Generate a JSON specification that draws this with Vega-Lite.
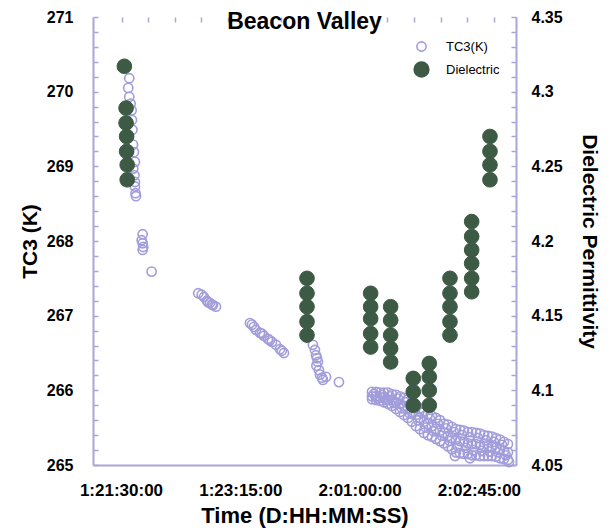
{
  "$schema": "https://vega.github.io/schema/vega-lite/v6.json",
  "width": 423,
  "height": 448,
  "autosize": {"type": "none"},
  "padding": {"left": 93, "top": 17, "right": 94, "bottom": 67},
  "background": "white",
  "title": {"text": "Beacon Valley", "font": "Liberation Sans", "fontSize": 23, "fontWeight": "bold", "color": "black", "anchor": "middle", "frame": "group", "offset": -12, "dy": 31, "baseline": "alphabetic"},
  "config": {
    "view": {"stroke": null},
    "axis": {"domainColor": "#aaa6d8", "domainWidth": 2, "tickColor": "#aaa6d8", "tickWidth": 1.5, "labelFont": "Liberation Sans", "labelFontWeight": "bold", "labelColor": "black", "titleFont": "Liberation Sans", "titleFontWeight": "bold", "titleColor": "black", "grid": false, "labelOverlap": false, "labelFlush": false, "labelBound": false}
  },
  "datasets": {
    "tc3": [
      {"t": 7.3, "v": 270.18, "series": "TC3(K)"},
      {"t": 6.4, "v": 270.05, "series": "TC3(K)"},
      {"t": 7.3, "v": 269.93, "series": "TC3(K)"},
      {"t": 8.5, "v": 269.84, "series": "TC3(K)"},
      {"t": 9.4, "v": 269.75, "series": "TC3(K)"},
      {"t": 9.7, "v": 269.62, "series": "TC3(K)"},
      {"t": 10.1, "v": 269.49, "series": "TC3(K)"},
      {"t": 10.6, "v": 269.29, "series": "TC3(K)"},
      {"t": 11.4, "v": 269.19, "series": "TC3(K)"},
      {"t": 12.3, "v": 269.06, "series": "TC3(K)"},
      {"t": 10.8, "v": 268.97, "series": "TC3(K)"},
      {"t": 11.9, "v": 268.88, "series": "TC3(K)"},
      {"t": 12.3, "v": 268.79, "series": "TC3(K)"},
      {"t": 12.3, "v": 268.73, "series": "TC3(K)"},
      {"t": 12.8, "v": 268.64, "series": "TC3(K)"},
      {"t": 13.2, "v": 268.6, "series": "TC3(K)"},
      {"t": 19.1, "v": 268.09, "series": "TC3(K)"},
      {"t": 18.2, "v": 268.01, "series": "TC3(K)"},
      {"t": 19.1, "v": 267.97, "series": "TC3(K)"},
      {"t": 19.6, "v": 267.92, "series": "TC3(K)"},
      {"t": 19.1, "v": 267.88, "series": "TC3(K)"},
      {"t": 27.0, "v": 267.59, "series": "TC3(K)"},
      {"t": 68.0, "v": 267.3, "series": "TC3(K)"},
      {"t": 71.0, "v": 267.28, "series": "TC3(K)"},
      {"t": 73.0, "v": 267.25, "series": "TC3(K)"},
      {"t": 75.7, "v": 267.2, "series": "TC3(K)"},
      {"t": 76.5, "v": 267.18, "series": "TC3(K)"},
      {"t": 78.3, "v": 267.17, "series": "TC3(K)"},
      {"t": 80.0, "v": 267.15, "series": "TC3(K)"},
      {"t": 81.0, "v": 267.14, "series": "TC3(K)"},
      {"t": 83.6, "v": 267.12, "series": "TC3(K)"},
      {"t": 113.5, "v": 266.9, "series": "TC3(K)"},
      {"t": 115.3, "v": 266.88, "series": "TC3(K)"},
      {"t": 117.0, "v": 266.85, "series": "TC3(K)"},
      {"t": 118.8, "v": 266.81, "series": "TC3(K)"},
      {"t": 122.3, "v": 266.77, "series": "TC3(K)"},
      {"t": 124.0, "v": 266.76, "series": "TC3(K)"},
      {"t": 125.8, "v": 266.73, "series": "TC3(K)"},
      {"t": 129.3, "v": 266.69, "series": "TC3(K)"},
      {"t": 131.0, "v": 266.67, "series": "TC3(K)"},
      {"t": 132.9, "v": 266.65, "series": "TC3(K)"},
      {"t": 136.4, "v": 266.61, "series": "TC3(K)"},
      {"t": 139.9, "v": 266.55, "series": "TC3(K)"},
      {"t": 141.5, "v": 266.53, "series": "TC3(K)"},
      {"t": 143.4, "v": 266.5, "series": "TC3(K)"},
      {"t": 168.9, "v": 266.61, "series": "TC3(K)"},
      {"t": 170.7, "v": 266.54, "series": "TC3(K)"},
      {"t": 171.6, "v": 266.47, "series": "TC3(K)"},
      {"t": 172.5, "v": 266.43, "series": "TC3(K)"},
      {"t": 173.3, "v": 266.38, "series": "TC3(K)"},
      {"t": 172.0, "v": 266.33, "series": "TC3(K)"},
      {"t": 174.2, "v": 266.27, "series": "TC3(K)"},
      {"t": 175.1, "v": 266.21, "series": "TC3(K)"},
      {"t": 176.9, "v": 266.17, "series": "TC3(K)"},
      {"t": 177.7, "v": 266.14, "series": "TC3(K)"},
      {"t": 180.4, "v": 266.18, "series": "TC3(K)"},
      {"t": 191.8, "v": 266.11, "series": "TC3(K)"},
      {"t": 220.9, "v": 265.98, "series": "TC3(K)"}, {"t": 220.9, "v": 265.92, "series": "TC3(K)"}, {"t": 220.9, "v": 265.88, "series": "TC3(K)"}, {"t": 222.6, "v": 265.95, "series": "TC3(K)"},
      {"t": 224.4, "v": 265.98, "series": "TC3(K)"}, {"t": 224.4, "v": 265.92, "series": "TC3(K)"}, {"t": 224.4, "v": 265.87, "series": "TC3(K)"}, {"t": 226.1, "v": 265.89, "series": "TC3(K)"},
      {"t": 227.9, "v": 265.97, "series": "TC3(K)"}, {"t": 227.9, "v": 265.91, "series": "TC3(K)"}, {"t": 227.9, "v": 265.86, "series": "TC3(K)"}, {"t": 229.6, "v": 265.94, "series": "TC3(K)"},
      {"t": 231.4, "v": 265.97, "series": "TC3(K)"}, {"t": 231.4, "v": 265.9, "series": "TC3(K)"}, {"t": 231.4, "v": 265.84, "series": "TC3(K)"}, {"t": 233.1, "v": 265.87, "series": "TC3(K)"},
      {"t": 234.9, "v": 265.97, "series": "TC3(K)"}, {"t": 234.9, "v": 265.88, "series": "TC3(K)"}, {"t": 234.9, "v": 265.82, "series": "TC3(K)"}, {"t": 236.6, "v": 265.92, "series": "TC3(K)"},
      {"t": 238.4, "v": 265.95, "series": "TC3(K)"}, {"t": 238.4, "v": 265.87, "series": "TC3(K)"}, {"t": 238.4, "v": 265.79, "series": "TC3(K)"}, {"t": 240.1, "v": 265.83, "series": "TC3(K)"},
      {"t": 242.0, "v": 265.94, "series": "TC3(K)"}, {"t": 242.0, "v": 265.84, "series": "TC3(K)"}, {"t": 242.0, "v": 265.75, "series": "TC3(K)"}, {"t": 243.7, "v": 265.89, "series": "TC3(K)"},
      {"t": 245.5, "v": 265.92, "series": "TC3(K)"}, {"t": 245.5, "v": 265.82, "series": "TC3(K)"}, {"t": 245.5, "v": 265.71, "series": "TC3(K)"}, {"t": 247.2, "v": 265.76, "series": "TC3(K)"},
      {"t": 249.0, "v": 265.9, "series": "TC3(K)"}, {"t": 249.0, "v": 265.79, "series": "TC3(K)"}, {"t": 249.0, "v": 265.67, "series": "TC3(K)"}, {"t": 250.7, "v": 265.84, "series": "TC3(K)"},
      {"t": 252.5, "v": 265.88, "series": "TC3(K)"}, {"t": 252.5, "v": 265.76, "series": "TC3(K)"}, {"t": 252.5, "v": 265.63, "series": "TC3(K)"}, {"t": 254.2, "v": 265.69, "series": "TC3(K)"},
      {"t": 256.0, "v": 265.84, "series": "TC3(K)"}, {"t": 256.0, "v": 265.71, "series": "TC3(K)"}, {"t": 256.0, "v": 265.58, "series": "TC3(K)"}, {"t": 257.7, "v": 265.77, "series": "TC3(K)"},
      {"t": 259.6, "v": 265.8, "series": "TC3(K)"}, {"t": 259.6, "v": 265.67, "series": "TC3(K)"}, {"t": 259.6, "v": 265.52, "series": "TC3(K)"}, {"t": 261.3, "v": 265.6, "series": "TC3(K)"},
      {"t": 263.1, "v": 265.76, "series": "TC3(K)"}, {"t": 263.1, "v": 265.63, "series": "TC3(K)"}, {"t": 263.1, "v": 265.48, "series": "TC3(K)"}, {"t": 264.8, "v": 265.7, "series": "TC3(K)"},
      {"t": 266.6, "v": 265.72, "series": "TC3(K)"}, {"t": 266.6, "v": 265.58, "series": "TC3(K)"}, {"t": 266.6, "v": 265.43, "series": "TC3(K)"}, {"t": 268.3, "v": 265.5, "series": "TC3(K)"},
      {"t": 270.1, "v": 265.68, "series": "TC3(K)"}, {"t": 270.1, "v": 265.55, "series": "TC3(K)"}, {"t": 270.1, "v": 265.4, "series": "TC3(K)"}, {"t": 271.8, "v": 265.62, "series": "TC3(K)"},
      {"t": 273.6, "v": 265.66, "series": "TC3(K)"}, {"t": 273.6, "v": 265.52, "series": "TC3(K)"}, {"t": 273.6, "v": 265.38, "series": "TC3(K)"}, {"t": 275.3, "v": 265.45, "series": "TC3(K)"},
      {"t": 277.2, "v": 265.63, "series": "TC3(K)"}, {"t": 277.2, "v": 265.48, "series": "TC3(K)"}, {"t": 277.2, "v": 265.35, "series": "TC3(K)"}, {"t": 278.9, "v": 265.55, "series": "TC3(K)"},
      {"t": 280.7, "v": 265.6, "series": "TC3(K)"}, {"t": 280.7, "v": 265.46, "series": "TC3(K)"}, {"t": 280.7, "v": 265.32, "series": "TC3(K)"}, {"t": 282.4, "v": 265.39, "series": "TC3(K)"},
      {"t": 284.2, "v": 265.55, "series": "TC3(K)"}, {"t": 284.2, "v": 265.43, "series": "TC3(K)"}, {"t": 284.2, "v": 265.29, "series": "TC3(K)"}, {"t": 285.9, "v": 265.49, "series": "TC3(K)"},
      {"t": 287.7, "v": 265.54, "series": "TC3(K)"}, {"t": 287.7, "v": 265.39, "series": "TC3(K)"}, {"t": 287.7, "v": 265.25, "series": "TC3(K)"}, {"t": 289.4, "v": 265.32, "series": "TC3(K)"},
      {"t": 291.2, "v": 265.51, "series": "TC3(K)"}, {"t": 291.2, "v": 265.36, "series": "TC3(K)"}, {"t": 291.2, "v": 265.21, "series": "TC3(K)"}, {"t": 292.9, "v": 265.44, "series": "TC3(K)"},
      {"t": 294.8, "v": 265.48, "series": "TC3(K)"}, {"t": 294.8, "v": 265.34, "series": "TC3(K)"}, {"t": 294.8, "v": 265.17, "series": "TC3(K)"}, {"t": 296.5, "v": 265.25, "series": "TC3(K)"},
      {"t": 298.3, "v": 265.47, "series": "TC3(K)"}, {"t": 298.3, "v": 265.32, "series": "TC3(K)"}, {"t": 298.3, "v": 265.16, "series": "TC3(K)"}, {"t": 300.0, "v": 265.4, "series": "TC3(K)"},
      {"t": 301.8, "v": 265.46, "series": "TC3(K)"}, {"t": 301.8, "v": 265.31, "series": "TC3(K)"}, {"t": 301.8, "v": 265.15, "series": "TC3(K)"}, {"t": 303.5, "v": 265.23, "series": "TC3(K)"},
      {"t": 305.3, "v": 265.44, "series": "TC3(K)"}, {"t": 305.3, "v": 265.29, "series": "TC3(K)"}, {"t": 305.3, "v": 265.15, "series": "TC3(K)"}, {"t": 307.0, "v": 265.37, "series": "TC3(K)"},
      {"t": 308.8, "v": 265.44, "series": "TC3(K)"}, {"t": 308.8, "v": 265.28, "series": "TC3(K)"}, {"t": 308.8, "v": 265.13, "series": "TC3(K)"}, {"t": 310.5, "v": 265.2, "series": "TC3(K)"},
      {"t": 312.4, "v": 265.43, "series": "TC3(K)"}, {"t": 312.4, "v": 265.28, "series": "TC3(K)"}, {"t": 312.4, "v": 265.13, "series": "TC3(K)"}, {"t": 314.1, "v": 265.36, "series": "TC3(K)"},
      {"t": 315.9, "v": 265.42, "series": "TC3(K)"}, {"t": 315.9, "v": 265.27, "series": "TC3(K)"}, {"t": 315.9, "v": 265.12, "series": "TC3(K)"}, {"t": 317.6, "v": 265.19, "series": "TC3(K)"},
      {"t": 319.4, "v": 265.4, "series": "TC3(K)"}, {"t": 319.4, "v": 265.25, "series": "TC3(K)"}, {"t": 319.4, "v": 265.12, "series": "TC3(K)"}, {"t": 321.1, "v": 265.33, "series": "TC3(K)"},
      {"t": 322.9, "v": 265.39, "series": "TC3(K)"}, {"t": 322.9, "v": 265.25, "series": "TC3(K)"}, {"t": 322.9, "v": 265.12, "series": "TC3(K)"}, {"t": 324.6, "v": 265.18, "series": "TC3(K)"},
      {"t": 326.4, "v": 265.38, "series": "TC3(K)"}, {"t": 326.4, "v": 265.24, "series": "TC3(K)"}, {"t": 326.4, "v": 265.12, "series": "TC3(K)"}, {"t": 328.1, "v": 265.31, "series": "TC3(K)"},
      {"t": 330.0, "v": 265.36, "series": "TC3(K)"}, {"t": 330.0, "v": 265.23, "series": "TC3(K)"}, {"t": 330.0, "v": 265.11, "series": "TC3(K)"}, {"t": 331.7, "v": 265.17, "series": "TC3(K)"},
      {"t": 333.5, "v": 265.34, "series": "TC3(K)"}, {"t": 333.5, "v": 265.2, "series": "TC3(K)"}, {"t": 333.5, "v": 265.09, "series": "TC3(K)"}, {"t": 335.2, "v": 265.27, "series": "TC3(K)"},
      {"t": 337.0, "v": 265.31, "series": "TC3(K)"}, {"t": 337.0, "v": 265.19, "series": "TC3(K)"}, {"t": 337.0, "v": 265.08, "series": "TC3(K)"}, {"t": 338.7, "v": 265.13, "series": "TC3(K)"},
      {"t": 340.5, "v": 265.28, "series": "TC3(K)"}, {"t": 340.5, "v": 265.17, "series": "TC3(K)"}, {"t": 340.5, "v": 265.07, "series": "TC3(K)"},
      {"t": 293.9, "v": 265.12, "series": "TC3(K)"},
      {"t": 307.1, "v": 265.09, "series": "TC3(K)"},
      {"t": 341.4, "v": 265.04, "series": "TC3(K)"}
    ],
    "diel": [
      {"t": 3.0, "d": 4.317, "series": "Dielectric"},
      {"t": 4.5, "d": 4.289, "series": "Dielectric"},
      {"t": 4.5, "d": 4.279, "series": "Dielectric"},
      {"t": 5.0, "d": 4.27, "series": "Dielectric"},
      {"t": 5.0, "d": 4.26, "series": "Dielectric"},
      {"t": 5.5, "d": 4.251, "series": "Dielectric"},
      {"t": 5.5, "d": 4.241, "series": "Dielectric"},
      {"t": 163.7, "d": 4.175, "series": "Dielectric"},
      {"t": 163.7, "d": 4.165, "series": "Dielectric"},
      {"t": 163.7, "d": 4.156, "series": "Dielectric"},
      {"t": 163.7, "d": 4.146, "series": "Dielectric"},
      {"t": 163.7, "d": 4.137, "series": "Dielectric"},
      {"t": 219.7, "d": 4.165, "series": "Dielectric"},
      {"t": 219.7, "d": 4.156, "series": "Dielectric"},
      {"t": 219.7, "d": 4.148, "series": "Dielectric"},
      {"t": 219.7, "d": 4.138, "series": "Dielectric"},
      {"t": 219.7, "d": 4.129, "series": "Dielectric"},
      {"t": 237.3, "d": 4.156, "series": "Dielectric"},
      {"t": 237.3, "d": 4.147, "series": "Dielectric"},
      {"t": 237.3, "d": 4.137, "series": "Dielectric"},
      {"t": 237.3, "d": 4.128, "series": "Dielectric"},
      {"t": 237.3, "d": 4.119, "series": "Dielectric"},
      {"t": 257.2, "d": 4.108, "series": "Dielectric"},
      {"t": 257.2, "d": 4.099, "series": "Dielectric"},
      {"t": 257.2, "d": 4.09, "series": "Dielectric"},
      {"t": 271.3, "d": 4.118, "series": "Dielectric"},
      {"t": 271.3, "d": 4.109, "series": "Dielectric"},
      {"t": 271.3, "d": 4.1, "series": "Dielectric"},
      {"t": 271.3, "d": 4.09, "series": "Dielectric"},
      {"t": 289.5, "d": 4.175, "series": "Dielectric"},
      {"t": 289.5, "d": 4.165, "series": "Dielectric"},
      {"t": 289.5, "d": 4.156, "series": "Dielectric"},
      {"t": 289.5, "d": 4.146, "series": "Dielectric"},
      {"t": 289.5, "d": 4.137, "series": "Dielectric"},
      {"t": 308.6, "d": 4.213, "series": "Dielectric"},
      {"t": 308.6, "d": 4.203, "series": "Dielectric"},
      {"t": 308.6, "d": 4.194, "series": "Dielectric"},
      {"t": 308.6, "d": 4.185, "series": "Dielectric"},
      {"t": 308.6, "d": 4.175, "series": "Dielectric"},
      {"t": 308.6, "d": 4.166, "series": "Dielectric"},
      {"t": 324.7, "d": 4.27, "series": "Dielectric"},
      {"t": 324.7, "d": 4.26, "series": "Dielectric"},
      {"t": 324.7, "d": 4.251, "series": "Dielectric"},
      {"t": 324.7, "d": 4.241, "series": "Dielectric"}
    ]
  },
  "layer": [
    {
      "data": {"name": "tc3"},
      "mark": {"type": "point", "shape": "circle", "strokeWidth": 1.6, "opacity": 1},
      "encoding": {
        "x": {"field": "t", "type": "quantitative",
          "scale": {"domain": [-24.6, 347.6], "nice": false, "zero": false},
          "axis": {"values": [0, 105, 210, 315], "ticks": false, "labelFontSize": 17, "labelPadding": 17,
            "labelExpr": "datum.value == 0 ? '1:21:30:00' : datum.value == 105 ? '1:23:15:00' : datum.value == 210 ? '2:01:00:00' : '2:02:45:00'",
            "title": "Time (D:HH:MM:SS)", "titleFontSize": 22, "titlePadding": 7}},
        "y": {"field": "v", "type": "quantitative",
          "scale": {"domain": [265, 271], "nice": false, "zero": false},
          "axis": {"orient": "left", "values": [265, 265.2, 265.4, 265.6, 265.8, 266, 266.2, 266.4, 266.6, 266.8, 267, 267.2, 267.4, 267.6, 267.8, 268, 268.2, 268.4, 268.6, 268.8, 269, 269.2, 269.4, 269.6, 269.8, 270, 270.2, 270.4, 270.6, 270.8, 271],
            "tickSize": -5, "labelFontSize": 16, "labelPadding": 25,
            "labelExpr": "abs(datum.value - round(datum.value)) < 0.01 ? format(datum.value, 'd') : ''",
            "title": "TC3 (K)", "titleFontSize": 21, "titlePadding": 6}},
        "fill": {"field": "series", "type": "nominal",
          "scale": {"domain": ["TC3(K)", "Dielectric"], "range": ["transparent", "#3c5a44"]},
          "legend": {"orient": "none", "legendX": 320, "legendY": 23, "title": null, "labelFont": "Liberation Sans", "labelFontSize": 13, "rowPadding": 3, "symbolStrokeWidth": 1.6, "labelOffset": 16,
            "encode": {"labels": {"update": {"fill": {"signal": "datum.value === 'TC3(K)' ? '#a6a1d9' : '#4a4a4a'"}}}}}},
        "stroke": {"field": "series", "type": "nominal",
          "scale": {"domain": ["TC3(K)", "Dielectric"], "range": ["#a29dda", "#3c5a44"]},
          "legend": {"orient": "none", "legendX": 320, "legendY": 23, "title": null, "labelFont": "Liberation Sans", "labelFontSize": 13, "rowPadding": 3, "symbolStrokeWidth": 1.6, "labelOffset": 16,
            "encode": {"labels": {"update": {"fill": {"signal": "datum.value === 'TC3(K)' ? '#a6a1d9' : '#4a4a4a'"}}}}}},
        "size": {"field": "series", "type": "nominal",
          "scale": {"domain": ["TC3(K)", "Dielectric"], "range": [85, 215]},
          "legend": {"orient": "none", "legendX": 320, "legendY": 23, "title": null, "labelFont": "Liberation Sans", "labelFontSize": 13, "rowPadding": 3, "symbolStrokeWidth": 1.6, "labelOffset": 16,
            "encode": {"labels": {"update": {"fill": {"signal": "datum.value === 'TC3(K)' ? '#a6a1d9' : '#4a4a4a'"}}}}}}
      }
    },
    {
      "data": {"name": "diel"},
      "mark": {"type": "point", "shape": "circle", "strokeWidth": 1, "opacity": 1},
      "encoding": {
        "x": {"field": "t", "type": "quantitative",
          "scale": {"domain": [-24.6, 347.6], "nice": false, "zero": false},
          "axis": {"values": [0.5, 23.9, 47.3, 70.7, 94.1, 117.5, 140.9, 164.3, 187.7, 211.1, 234.5, 257.9, 281.3, 304.7, 328.1], "labels": false, "domain": false, "tickSize": -5, "title": null}},
        "y": {"field": "d", "type": "quantitative",
          "scale": {"domain": [4.05, 4.35], "nice": false, "zero": false},
          "axis": {"orient": "right", "values": [4.05, 4.06, 4.07, 4.08, 4.09, 4.1, 4.11, 4.12, 4.13, 4.14, 4.15, 4.16, 4.17, 4.18, 4.19, 4.2, 4.21, 4.22, 4.23, 4.24, 4.25, 4.26, 4.27, 4.28, 4.29, 4.3, 4.31, 4.32, 4.33, 4.34, 4.35],
            "tickSize": -5, "labelFontSize": 16, "labelPadding": 20,
            "labelExpr": "abs(datum.value * 20 - round(datum.value * 20)) < 0.01 ? format(datum.value, '~g') : ''",
            "title": "Dielectric Permittivity", "titleFontSize": 21, "titlePadding": 16}},
        "fill": {"field": "series", "type": "nominal", "scale": {"domain": ["TC3(K)", "Dielectric"], "range": ["transparent", "#3c5a44"]}},
        "stroke": {"field": "series", "type": "nominal", "scale": {"domain": ["TC3(K)", "Dielectric"], "range": ["#a29dda", "#3c5a44"]}},
        "size": {"field": "series", "type": "nominal", "scale": {"domain": ["TC3(K)", "Dielectric"], "range": [85, 215]}}
      }
    }
  ],
  "resolve": {"scale": {"y": "independent"}, "axis": {"x": "independent", "y": "independent"}}
}
